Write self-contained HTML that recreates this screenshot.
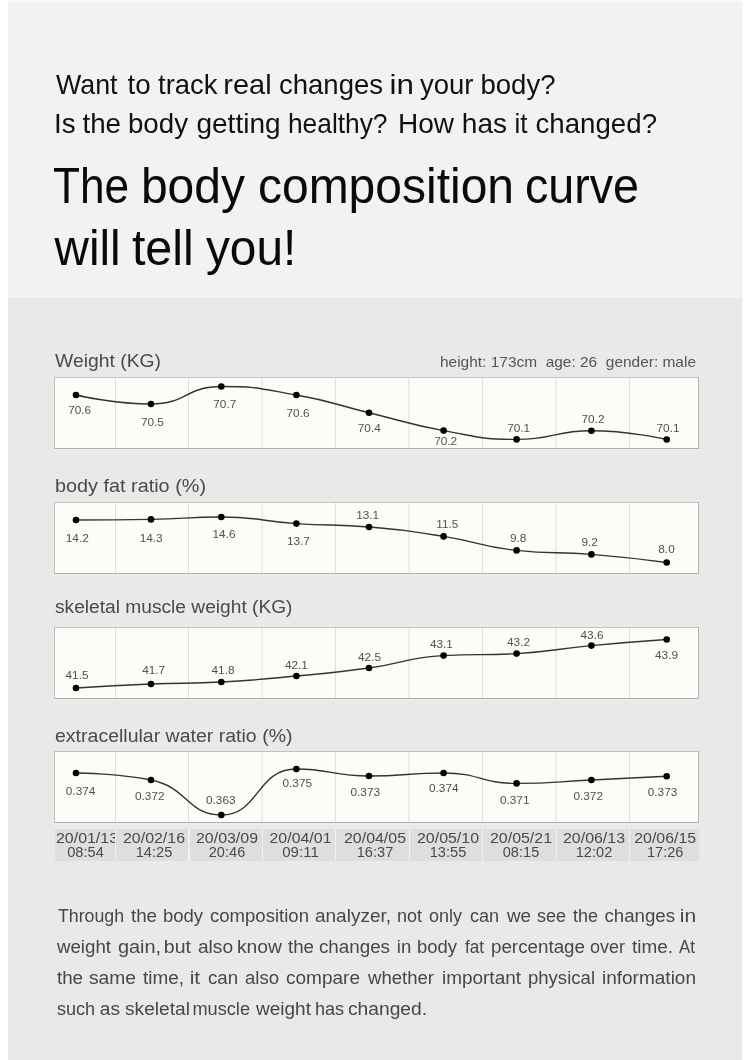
<!DOCTYPE html>
<html><head><meta charset="utf-8"><style>
html,body{margin:0;padding:0;background:#fff;width:750px;height:1060px;overflow:hidden}
svg{display:block;font-family:"Liberation Sans", sans-serif;will-change:transform}
</style></head><body>
<svg width="750" height="1060" viewBox="0 0 750 1060">
<rect x="0" y="0" width="750" height="1060" fill="#ffffff"/>
<rect x="8" y="0" width="734" height="2" fill="#f8f8f8"/>
<rect x="8" y="2" width="734" height="296" fill="#f2f2f2"/>
<rect x="8" y="295" width="734" height="3" fill="#f4f4f4"/>
<rect x="8" y="298" width="734" height="762" fill="#e9e9e9"/>
<rect x="742" y="2" width="1" height="1058" fill="#f6f6f6"/>
<text x="55.99" y="94.4" font-size="27.2" fill="#111" textLength="61.51" lengthAdjust="spacingAndGlyphs">Want</text>
<text x="127.44" y="94.4" font-size="27.2" fill="#111" textLength="23.15" lengthAdjust="spacingAndGlyphs">to</text>
<text x="158.00" y="94.4" font-size="27.2" fill="#111" textLength="59.52" lengthAdjust="spacingAndGlyphs">track</text>
<text x="223.32" y="94.4" font-size="27.2" fill="#111" textLength="48.32" lengthAdjust="spacingAndGlyphs">real</text>
<text x="278.98" y="94.4" font-size="27.2" fill="#111" textLength="104.04" lengthAdjust="spacingAndGlyphs">changes</text>
<text x="389.47" y="94.4" font-size="27.2" fill="#111" textLength="24.40" lengthAdjust="spacingAndGlyphs">in</text>
<text x="420.00" y="94.4" font-size="27.2" fill="#111" textLength="53.52" lengthAdjust="spacingAndGlyphs">your</text>
<text x="480.44" y="94.4" font-size="27.2" fill="#111" textLength="75.10" lengthAdjust="spacingAndGlyphs">body?</text>
<text x="54.04" y="133" font-size="27.2" fill="#111" textLength="21.60" lengthAdjust="spacingAndGlyphs">Is</text>
<text x="82.45" y="133" font-size="27.2" fill="#111" textLength="38.60" lengthAdjust="spacingAndGlyphs">the</text>
<text x="127.93" y="133" font-size="27.2" fill="#111" textLength="60.07" lengthAdjust="spacingAndGlyphs">body</text>
<text x="196.47" y="133" font-size="27.2" fill="#111" textLength="84.08" lengthAdjust="spacingAndGlyphs">getting</text>
<text x="287.94" y="133" font-size="27.2" fill="#111" textLength="99.58" lengthAdjust="spacingAndGlyphs">healthy?</text>
<text x="397.92" y="133" font-size="27.2" fill="#111" textLength="56.08" lengthAdjust="spacingAndGlyphs">How</text>
<text x="461.85" y="133" font-size="27.2" fill="#111" textLength="45.23" lengthAdjust="spacingAndGlyphs">has</text>
<text x="514.62" y="133" font-size="27.2" fill="#111" textLength="12.92" lengthAdjust="spacingAndGlyphs">it</text>
<text x="535.46" y="133" font-size="27.2" fill="#111" textLength="121.57" lengthAdjust="spacingAndGlyphs">changed?</text>
<text x="52.96" y="203.3" font-size="50" fill="#0a0a0a" textLength="76.13" lengthAdjust="spacingAndGlyphs">The</text>
<text x="140.89" y="203.3" font-size="50" fill="#0a0a0a" textLength="104.13" lengthAdjust="spacingAndGlyphs">body</text>
<text x="257.94" y="203.3" font-size="50" fill="#0a0a0a" textLength="256.12" lengthAdjust="spacingAndGlyphs">composition</text>
<text x="524.92" y="203.3" font-size="50" fill="#0a0a0a" textLength="114.15" lengthAdjust="spacingAndGlyphs">curve</text>
<text x="54.50" y="265.2" font-size="50" fill="#0a0a0a" textLength="66.12" lengthAdjust="spacingAndGlyphs">will</text>
<text x="131.92" y="265.2" font-size="50" fill="#0a0a0a" textLength="61.85" lengthAdjust="spacingAndGlyphs">tell</text>
<text x="205.96" y="265.2" font-size="50" fill="#0a0a0a" textLength="90.25" lengthAdjust="spacingAndGlyphs">you!</text>
<text x="440" y="366.7" font-size="15" fill="#555" xml:space="preserve" style="white-space:pre" textLength="256" lengthAdjust="spacingAndGlyphs">height: 173cm  age: 26  gender: male</text>
<text x="55" y="366.6" font-size="19.2" fill="#4a4a4a" textLength="106" lengthAdjust="spacingAndGlyphs">Weight (KG)</text>
<rect x="53" y="449" width="647" height="2" fill="#ececec"/>
<rect x="53" y="377" width="1" height="72" fill="#ececeb"/>
<rect x="54" y="377" width="645" height="72" fill="#fefcf6"/>
<rect x="55.5" y="378.5" width="642" height="69" fill="none" stroke="#ffffff" stroke-width="1"/>
<rect x="54" y="377" width="645" height="1" fill="#c3c3c1"/>
<rect x="54" y="448" width="645" height="1" fill="#aeafab"/>
<rect x="54" y="377" width="1" height="72" fill="#bdbdba"/>
<rect x="698" y="377" width="1" height="72" fill="#b3b3b0"/>
<line x1="115.5" y1="378" x2="115.5" y2="448" stroke="#e0ded8" stroke-width="1"/>
<line x1="188.5" y1="378" x2="188.5" y2="448" stroke="#e0ded8" stroke-width="1"/>
<line x1="262" y1="378" x2="262" y2="448" stroke="#e0ded8" stroke-width="1"/>
<line x1="335.5" y1="378" x2="335.5" y2="448" stroke="#e0ded8" stroke-width="1"/>
<line x1="409" y1="378" x2="409" y2="448" stroke="#e0ded8" stroke-width="1"/>
<line x1="482.5" y1="378" x2="482.5" y2="448" stroke="#e0ded8" stroke-width="1"/>
<line x1="556" y1="378" x2="556" y2="448" stroke="#e0ded8" stroke-width="1"/>
<line x1="629.5" y1="378" x2="629.5" y2="448" stroke="#e0ded8" stroke-width="1"/>
<path d="M76.00,395.00 C76.00,395.00 113.92,404.00 151.00,404.00 C186.57,404.00 185.72,386.50 221.30,386.50 C258.42,386.50 259.27,388.41 296.40,395.00 C333.12,401.51 332.68,403.92 369.00,412.70 C406.28,421.72 405.92,423.78 443.60,430.60 C479.72,437.13 480.09,439.40 516.60,439.40 C553.99,439.40 554.00,430.80 591.40,430.80 C629.05,430.80 666.70,439.50 666.70,439.50" fill="none" stroke="#333" stroke-width="1.4"/>
<circle cx="76" cy="395" r="3.3" fill="#000"/>
<circle cx="151" cy="404" r="3.3" fill="#000"/>
<circle cx="221.3" cy="386.5" r="3.3" fill="#000"/>
<circle cx="296.4" cy="395" r="3.3" fill="#000"/>
<circle cx="369" cy="412.7" r="3.3" fill="#000"/>
<circle cx="443.6" cy="430.6" r="3.3" fill="#000"/>
<circle cx="516.6" cy="439.4" r="3.3" fill="#000"/>
<circle cx="591.4" cy="430.8" r="3.3" fill="#000"/>
<circle cx="666.7" cy="439.5" r="3.3" fill="#000"/>
<text x="79.7" y="414" font-size="11.8" fill="#505050" text-anchor="middle">70.6</text>
<text x="152.4" y="426.4" font-size="11.8" fill="#505050" text-anchor="middle">70.5</text>
<text x="224.8" y="407.6" font-size="11.8" fill="#505050" text-anchor="middle">70.7</text>
<text x="298" y="416.6" font-size="11.8" fill="#505050" text-anchor="middle">70.6</text>
<text x="369.3" y="432.4" font-size="11.8" fill="#505050" text-anchor="middle">70.4</text>
<text x="445.7" y="445.4" font-size="11.8" fill="#505050" text-anchor="middle">70.2</text>
<text x="518.7" y="432" font-size="11.8" fill="#505050" text-anchor="middle">70.1</text>
<text x="593" y="423.4" font-size="11.8" fill="#505050" text-anchor="middle">70.2</text>
<text x="668" y="431.5" font-size="11.8" fill="#505050" text-anchor="middle">70.1</text>
<text x="55" y="492.4" font-size="19.2" fill="#4a4a4a" textLength="151" lengthAdjust="spacingAndGlyphs">body fat ratio (%)</text>
<rect x="53" y="574" width="647" height="2" fill="#ececec"/>
<rect x="53" y="502" width="1" height="72" fill="#ececeb"/>
<rect x="54" y="502" width="645" height="72" fill="#fefcf6"/>
<rect x="55.5" y="503.5" width="642" height="69" fill="none" stroke="#ffffff" stroke-width="1"/>
<rect x="54" y="502" width="645" height="1" fill="#c3c3c1"/>
<rect x="54" y="573" width="645" height="1" fill="#aeafab"/>
<rect x="54" y="502" width="1" height="72" fill="#bdbdba"/>
<rect x="698" y="502" width="1" height="72" fill="#b3b3b0"/>
<line x1="115.5" y1="503" x2="115.5" y2="573" stroke="#e0ded8" stroke-width="1"/>
<line x1="188.5" y1="503" x2="188.5" y2="573" stroke="#e0ded8" stroke-width="1"/>
<line x1="262" y1="503" x2="262" y2="573" stroke="#e0ded8" stroke-width="1"/>
<line x1="335.5" y1="503" x2="335.5" y2="573" stroke="#e0ded8" stroke-width="1"/>
<line x1="409" y1="503" x2="409" y2="573" stroke="#e0ded8" stroke-width="1"/>
<line x1="482.5" y1="503" x2="482.5" y2="573" stroke="#e0ded8" stroke-width="1"/>
<line x1="556" y1="503" x2="556" y2="573" stroke="#e0ded8" stroke-width="1"/>
<line x1="629.5" y1="503" x2="629.5" y2="573" stroke="#e0ded8" stroke-width="1"/>
<path d="M76.00,520.00 C76.00,520.00 113.51,520.00 151.00,519.40 C186.16,518.84 186.21,517.00 221.30,517.00 C258.91,517.00 258.80,521.05 296.40,523.60 C332.65,526.05 332.82,523.85 369.00,527.00 C406.42,530.25 406.49,530.52 443.60,536.40 C480.29,542.22 479.79,546.43 516.60,550.40 C553.69,554.40 554.08,551.39 591.40,554.40 C629.13,557.44 666.70,562.50 666.70,562.50" fill="none" stroke="#333" stroke-width="1.4"/>
<circle cx="76" cy="520" r="3.3" fill="#000"/>
<circle cx="151" cy="519.4" r="3.3" fill="#000"/>
<circle cx="221.3" cy="517" r="3.3" fill="#000"/>
<circle cx="296.4" cy="523.6" r="3.3" fill="#000"/>
<circle cx="369" cy="527" r="3.3" fill="#000"/>
<circle cx="443.6" cy="536.4" r="3.3" fill="#000"/>
<circle cx="516.6" cy="550.4" r="3.3" fill="#000"/>
<circle cx="591.4" cy="554.4" r="3.3" fill="#000"/>
<circle cx="666.7" cy="562.5" r="3.3" fill="#000"/>
<text x="77.3" y="541.6" font-size="11.8" fill="#505050" text-anchor="middle">14.2</text>
<text x="151.2" y="541.6" font-size="11.8" fill="#505050" text-anchor="middle">14.3</text>
<text x="224" y="538.4" font-size="11.8" fill="#505050" text-anchor="middle">14.6</text>
<text x="298.4" y="545" font-size="11.8" fill="#505050" text-anchor="middle">13.7</text>
<text x="367.7" y="519" font-size="11.8" fill="#505050" text-anchor="middle">13.1</text>
<text x="447.3" y="527.6" font-size="11.8" fill="#505050" text-anchor="middle">11.5</text>
<text x="518.2" y="542.4" font-size="11.8" fill="#505050" text-anchor="middle">9.8</text>
<text x="589.7" y="546.4" font-size="11.8" fill="#505050" text-anchor="middle">9.2</text>
<text x="666.5" y="553.4" font-size="11.8" fill="#505050" text-anchor="middle">8.0</text>
<text x="55" y="612.6" font-size="19.2" fill="#4a4a4a" textLength="237.5" lengthAdjust="spacingAndGlyphs">skeletal muscle weight (KG)</text>
<rect x="53" y="699" width="647" height="2" fill="#ececec"/>
<rect x="53" y="627" width="1" height="72" fill="#ececeb"/>
<rect x="54" y="627" width="645" height="72" fill="#fefcf6"/>
<rect x="55.5" y="628.5" width="642" height="69" fill="none" stroke="#ffffff" stroke-width="1"/>
<rect x="54" y="627" width="645" height="1" fill="#c3c3c1"/>
<rect x="54" y="698" width="645" height="1" fill="#aeafab"/>
<rect x="54" y="627" width="1" height="72" fill="#bdbdba"/>
<rect x="698" y="627" width="1" height="72" fill="#b3b3b0"/>
<line x1="115.5" y1="628" x2="115.5" y2="698" stroke="#e0ded8" stroke-width="1"/>
<line x1="188.5" y1="628" x2="188.5" y2="698" stroke="#e0ded8" stroke-width="1"/>
<line x1="262" y1="628" x2="262" y2="698" stroke="#e0ded8" stroke-width="1"/>
<line x1="335.5" y1="628" x2="335.5" y2="698" stroke="#e0ded8" stroke-width="1"/>
<line x1="409" y1="628" x2="409" y2="698" stroke="#e0ded8" stroke-width="1"/>
<line x1="482.5" y1="628" x2="482.5" y2="698" stroke="#e0ded8" stroke-width="1"/>
<line x1="556" y1="628" x2="556" y2="698" stroke="#e0ded8" stroke-width="1"/>
<line x1="629.5" y1="628" x2="629.5" y2="698" stroke="#e0ded8" stroke-width="1"/>
<path d="M76.00,688.00 C76.00,688.00 113.48,685.55 151.00,684.00 C186.13,682.55 186.20,683.93 221.30,682.00 C258.90,679.93 258.90,679.55 296.40,676.00 C332.75,672.55 332.84,673.01 369.00,668.00 C406.44,662.81 406.06,657.67 443.60,655.60 C479.86,653.60 480.20,655.60 516.60,653.60 C554.10,651.54 553.95,649.12 591.40,645.60 C629.00,642.07 666.70,639.50 666.70,639.50" fill="none" stroke="#333" stroke-width="1.4"/>
<circle cx="76" cy="688" r="3.3" fill="#000"/>
<circle cx="151" cy="684" r="3.3" fill="#000"/>
<circle cx="221.3" cy="682" r="3.3" fill="#000"/>
<circle cx="296.4" cy="676" r="3.3" fill="#000"/>
<circle cx="369" cy="668" r="3.3" fill="#000"/>
<circle cx="443.6" cy="655.6" r="3.3" fill="#000"/>
<circle cx="516.6" cy="653.6" r="3.3" fill="#000"/>
<circle cx="591.4" cy="645.6" r="3.3" fill="#000"/>
<circle cx="666.7" cy="639.5" r="3.3" fill="#000"/>
<text x="77" y="679" font-size="11.8" fill="#505050" text-anchor="middle">41.5</text>
<text x="153.7" y="674.4" font-size="11.8" fill="#505050" text-anchor="middle">41.7</text>
<text x="223" y="674.4" font-size="11.8" fill="#505050" text-anchor="middle">41.8</text>
<text x="296.4" y="669" font-size="11.8" fill="#505050" text-anchor="middle">42.1</text>
<text x="369.5" y="661.4" font-size="11.8" fill="#505050" text-anchor="middle">42.5</text>
<text x="441.4" y="648" font-size="11.8" fill="#505050" text-anchor="middle">43.1</text>
<text x="518.5" y="646" font-size="11.8" fill="#505050" text-anchor="middle">43.2</text>
<text x="592" y="639.4" font-size="11.8" fill="#505050" text-anchor="middle">43.6</text>
<text x="666.5" y="659.2" font-size="11.8" fill="#505050" text-anchor="middle">43.9</text>
<text x="55" y="741.6" font-size="19.2" fill="#4a4a4a" textLength="237.5" lengthAdjust="spacingAndGlyphs">extracellular water ratio (%)</text>
<rect x="53" y="823" width="647" height="2" fill="#ececec"/>
<rect x="53" y="751" width="1" height="72" fill="#ececeb"/>
<rect x="54" y="751" width="645" height="72" fill="#fefcf6"/>
<rect x="55.5" y="752.5" width="642" height="69" fill="none" stroke="#ffffff" stroke-width="1"/>
<rect x="54" y="751" width="645" height="1" fill="#c3c3c1"/>
<rect x="54" y="822" width="645" height="1" fill="#aeafab"/>
<rect x="54" y="751" width="1" height="72" fill="#bdbdba"/>
<rect x="698" y="751" width="1" height="72" fill="#b3b3b0"/>
<line x1="115.5" y1="752" x2="115.5" y2="822" stroke="#e0ded8" stroke-width="1"/>
<line x1="188.5" y1="752" x2="188.5" y2="822" stroke="#e0ded8" stroke-width="1"/>
<line x1="262" y1="752" x2="262" y2="822" stroke="#e0ded8" stroke-width="1"/>
<line x1="335.5" y1="752" x2="335.5" y2="822" stroke="#e0ded8" stroke-width="1"/>
<line x1="409" y1="752" x2="409" y2="822" stroke="#e0ded8" stroke-width="1"/>
<line x1="482.5" y1="752" x2="482.5" y2="822" stroke="#e0ded8" stroke-width="1"/>
<line x1="556" y1="752" x2="556" y2="822" stroke="#e0ded8" stroke-width="1"/>
<line x1="629.5" y1="752" x2="629.5" y2="822" stroke="#e0ded8" stroke-width="1"/>
<path d="M76.00,773.00 C76.00,773.00 115.43,773.00 151.00,780.00 C188.08,787.30 187.03,815.00 221.30,815.00 C259.73,815.00 256.00,769.00 296.40,769.00 C329.85,769.00 332.63,776.00 369.00,776.00 C406.23,776.00 406.47,773.00 443.60,773.00 C480.27,773.00 479.93,783.40 516.60,783.40 C553.83,783.40 554.00,781.79 591.40,780.00 C629.05,778.19 666.70,776.20 666.70,776.20" fill="none" stroke="#333" stroke-width="1.4"/>
<circle cx="76" cy="773" r="3.3" fill="#000"/>
<circle cx="151" cy="780" r="3.3" fill="#000"/>
<circle cx="221.3" cy="815" r="3.3" fill="#000"/>
<circle cx="296.4" cy="769" r="3.3" fill="#000"/>
<circle cx="369" cy="776" r="3.3" fill="#000"/>
<circle cx="443.6" cy="773" r="3.3" fill="#000"/>
<circle cx="516.6" cy="783.4" r="3.3" fill="#000"/>
<circle cx="591.4" cy="780" r="3.3" fill="#000"/>
<circle cx="666.7" cy="776.2" r="3.3" fill="#000"/>
<text x="80.6" y="795.4" font-size="11.8" fill="#505050" text-anchor="middle">0.374</text>
<text x="149.8" y="799.6" font-size="11.8" fill="#505050" text-anchor="middle">0.372</text>
<text x="220.8" y="804.4" font-size="11.8" fill="#505050" text-anchor="middle">0.363</text>
<text x="297.3" y="787" font-size="11.8" fill="#505050" text-anchor="middle">0.375</text>
<text x="365.3" y="795.6" font-size="11.8" fill="#505050" text-anchor="middle">0.373</text>
<text x="443.8" y="792" font-size="11.8" fill="#505050" text-anchor="middle">0.374</text>
<text x="514.7" y="803.6" font-size="11.8" fill="#505050" text-anchor="middle">0.371</text>
<text x="588.2" y="800" font-size="11.8" fill="#505050" text-anchor="middle">0.372</text>
<text x="662.5" y="795.6" font-size="11.8" fill="#505050" text-anchor="middle">0.373</text>
<rect x="55" y="829" width="644" height="32" fill="#f1f1f1"/>
<rect x="55" y="829" width="60" height="32" fill="#dedede"/>
<clipPath id="cp0"><rect x="55" y="829" width="60" height="32"/></clipPath>
<g clip-path="url(#cp0)"><text x="56" y="843" font-size="13.9" fill="#4a4a4a" textLength="62" lengthAdjust="spacingAndGlyphs">20/01/13</text><text x="85.5" y="857" font-size="13.9" fill="#4a4a4a" text-anchor="middle" textLength="36.5" lengthAdjust="spacingAndGlyphs">08:54</text></g>
<rect x="116" y="829" width="72" height="32" fill="#dedede"/>
<text x="154" y="843" font-size="13.9" fill="#4a4a4a" text-anchor="middle" textLength="62" lengthAdjust="spacingAndGlyphs">20/02/16</text><text x="154" y="857" font-size="13.9" fill="#4a4a4a" text-anchor="middle" textLength="36.5" lengthAdjust="spacingAndGlyphs">14:25</text>
<rect x="190" y="829" width="72" height="32" fill="#dedede"/>
<text x="227" y="843" font-size="13.9" fill="#4a4a4a" text-anchor="middle" textLength="62" lengthAdjust="spacingAndGlyphs">20/03/09</text><text x="227" y="857" font-size="13.9" fill="#4a4a4a" text-anchor="middle" textLength="36.5" lengthAdjust="spacingAndGlyphs">20:46</text>
<rect x="263" y="829" width="72" height="32" fill="#dedede"/>
<text x="300.5" y="843" font-size="13.9" fill="#4a4a4a" text-anchor="middle" textLength="62" lengthAdjust="spacingAndGlyphs">20/04/01</text><text x="300.5" y="857" font-size="13.9" fill="#4a4a4a" text-anchor="middle" textLength="36.5" lengthAdjust="spacingAndGlyphs">09:11</text>
<rect x="336" y="829" width="73" height="32" fill="#dedede"/>
<text x="375" y="843" font-size="13.9" fill="#4a4a4a" text-anchor="middle" textLength="62" lengthAdjust="spacingAndGlyphs">20/04/05</text><text x="375" y="857" font-size="13.9" fill="#4a4a4a" text-anchor="middle" textLength="36.5" lengthAdjust="spacingAndGlyphs">16:37</text>
<rect x="410" y="829" width="72" height="32" fill="#dedede"/>
<text x="448" y="843" font-size="13.9" fill="#4a4a4a" text-anchor="middle" textLength="62" lengthAdjust="spacingAndGlyphs">20/05/10</text><text x="448" y="857" font-size="13.9" fill="#4a4a4a" text-anchor="middle" textLength="36.5" lengthAdjust="spacingAndGlyphs">13:55</text>
<rect x="483" y="829" width="73" height="32" fill="#dedede"/>
<text x="521" y="843" font-size="13.9" fill="#4a4a4a" text-anchor="middle" textLength="62" lengthAdjust="spacingAndGlyphs">20/05/21</text><text x="521" y="857" font-size="13.9" fill="#4a4a4a" text-anchor="middle" textLength="36.5" lengthAdjust="spacingAndGlyphs">08:15</text>
<rect x="557" y="829" width="72" height="32" fill="#dedede"/>
<text x="594" y="843" font-size="13.9" fill="#4a4a4a" text-anchor="middle" textLength="62" lengthAdjust="spacingAndGlyphs">20/06/13</text><text x="594" y="857" font-size="13.9" fill="#4a4a4a" text-anchor="middle" textLength="36.5" lengthAdjust="spacingAndGlyphs">12:02</text>
<rect x="630" y="829" width="69" height="32" fill="#dedede"/>
<text x="665.2" y="843" font-size="13.9" fill="#4a4a4a" text-anchor="middle" textLength="62" lengthAdjust="spacingAndGlyphs">20/06/15</text><text x="665.2" y="857" font-size="13.9" fill="#4a4a4a" text-anchor="middle" textLength="36.5" lengthAdjust="spacingAndGlyphs">17:26</text>
<text x="58.00" y="922.4" font-size="18.3" fill="#474747" textLength="66.02" lengthAdjust="spacingAndGlyphs">Through</text>
<text x="130.96" y="922.4" font-size="18.3" fill="#474747" textLength="26.11" lengthAdjust="spacingAndGlyphs">the</text>
<text x="162.95" y="922.4" font-size="18.3" fill="#474747" textLength="40.08" lengthAdjust="spacingAndGlyphs">body</text>
<text x="209.99" y="922.4" font-size="18.3" fill="#474747" textLength="99.03" lengthAdjust="spacingAndGlyphs">composition</text>
<text x="314.96" y="922.4" font-size="18.3" fill="#474747" textLength="76.13" lengthAdjust="spacingAndGlyphs">analyzer,</text>
<text x="396.96" y="922.4" font-size="18.3" fill="#474747" textLength="25.04" lengthAdjust="spacingAndGlyphs">not</text>
<text x="428.98" y="922.4" font-size="18.3" fill="#474747" textLength="33.02" lengthAdjust="spacingAndGlyphs">only</text>
<text x="469.92" y="922.4" font-size="18.3" fill="#474747" textLength="29.16" lengthAdjust="spacingAndGlyphs">can</text>
<text x="506.96" y="922.4" font-size="18.3" fill="#474747" textLength="24.07" lengthAdjust="spacingAndGlyphs">we</text>
<text x="536.95" y="922.4" font-size="18.3" fill="#474747" textLength="29.10" lengthAdjust="spacingAndGlyphs">see</text>
<text x="573.00" y="922.4" font-size="18.3" fill="#474747" textLength="25.04" lengthAdjust="spacingAndGlyphs">the</text>
<text x="604.48" y="922.4" font-size="18.3" fill="#474747" textLength="70.55" lengthAdjust="spacingAndGlyphs">changes</text>
<text x="679.83" y="922.4" font-size="18.3" fill="#474747" textLength="16.33" lengthAdjust="spacingAndGlyphs">in</text>
<text x="57.00" y="953" font-size="18.3" fill="#474747" textLength="54.00" lengthAdjust="spacingAndGlyphs">weight</text>
<text x="117.92" y="953" font-size="18.3" fill="#474747" textLength="43.24" lengthAdjust="spacingAndGlyphs">gain,</text>
<text x="163.89" y="953" font-size="18.3" fill="#474747" textLength="27.11" lengthAdjust="spacingAndGlyphs">but</text>
<text x="197.94" y="953" font-size="18.3" fill="#474747" textLength="35.13" lengthAdjust="spacingAndGlyphs">also</text>
<text x="236.98" y="953" font-size="18.3" fill="#474747" textLength="45.02" lengthAdjust="spacingAndGlyphs">know</text>
<text x="288.00" y="953" font-size="18.3" fill="#474747" textLength="26.04" lengthAdjust="spacingAndGlyphs">the</text>
<text x="318.97" y="953" font-size="18.3" fill="#474747" textLength="71.06" lengthAdjust="spacingAndGlyphs">changes</text>
<text x="396.80" y="953" font-size="18.3" fill="#474747" textLength="14.40" lengthAdjust="spacingAndGlyphs">in</text>
<text x="416.96" y="953" font-size="18.3" fill="#474747" textLength="40.04" lengthAdjust="spacingAndGlyphs">body</text>
<text x="465.00" y="953" font-size="18.3" fill="#474747" textLength="19.00" lengthAdjust="spacingAndGlyphs">fat</text>
<text x="490.98" y="953" font-size="18.3" fill="#474747" textLength="94.04" lengthAdjust="spacingAndGlyphs">percentage</text>
<text x="589.97" y="953" font-size="18.3" fill="#474747" textLength="35.03" lengthAdjust="spacingAndGlyphs">over</text>
<text x="632.00" y="953" font-size="18.3" fill="#474747" textLength="41.11" lengthAdjust="spacingAndGlyphs">time.</text>
<text x="679.00" y="953" font-size="18.3" fill="#474747" textLength="16.00" lengthAdjust="spacingAndGlyphs">At</text>
<text x="56.96" y="984.4" font-size="18.3" fill="#474747" textLength="26.11" lengthAdjust="spacingAndGlyphs">the</text>
<text x="88.95" y="984.4" font-size="18.3" fill="#474747" textLength="47.09" lengthAdjust="spacingAndGlyphs">same</text>
<text x="142.96" y="984.4" font-size="18.3" fill="#474747" textLength="41.15" lengthAdjust="spacingAndGlyphs">time,</text>
<text x="189.77" y="984.4" font-size="18.3" fill="#474747" textLength="10.37" lengthAdjust="spacingAndGlyphs">it</text>
<text x="207.97" y="984.4" font-size="18.3" fill="#474747" textLength="30.12" lengthAdjust="spacingAndGlyphs">can</text>
<text x="244.93" y="984.4" font-size="18.3" fill="#474747" textLength="34.13" lengthAdjust="spacingAndGlyphs">also</text>
<text x="285.97" y="984.4" font-size="18.3" fill="#474747" textLength="74.06" lengthAdjust="spacingAndGlyphs">compare</text>
<text x="368.00" y="984.4" font-size="18.3" fill="#474747" textLength="66.00" lengthAdjust="spacingAndGlyphs">whether</text>
<text x="441.99" y="984.4" font-size="18.3" fill="#474747" textLength="79.01" lengthAdjust="spacingAndGlyphs">important</text>
<text x="527.93" y="984.4" font-size="18.3" fill="#474747" textLength="67.11" lengthAdjust="spacingAndGlyphs">physical</text>
<text x="601.98" y="984.4" font-size="18.3" fill="#474747" textLength="94.04" lengthAdjust="spacingAndGlyphs">information</text>
<text x="56.97" y="1015" font-size="18.3" fill="#474747" textLength="38.07" lengthAdjust="spacingAndGlyphs">such</text>
<text x="99.88" y="1015" font-size="18.3" fill="#474747" textLength="20.25" lengthAdjust="spacingAndGlyphs">as</text>
<text x="124.98" y="1015" font-size="18.3" fill="#474747" textLength="65.04" lengthAdjust="spacingAndGlyphs">skeletal</text>
<text x="192.43" y="1015" font-size="18.3" fill="#474747" textLength="57.60" lengthAdjust="spacingAndGlyphs">muscle</text>
<text x="256.00" y="1015" font-size="18.3" fill="#474747" textLength="55.00" lengthAdjust="spacingAndGlyphs">weight</text>
<text x="314.92" y="1015" font-size="18.3" fill="#474747" textLength="29.16" lengthAdjust="spacingAndGlyphs">has</text>
<text x="347.96" y="1015" font-size="18.3" fill="#474747" textLength="79.12" lengthAdjust="spacingAndGlyphs">changed.</text>
</svg>
</body></html>
